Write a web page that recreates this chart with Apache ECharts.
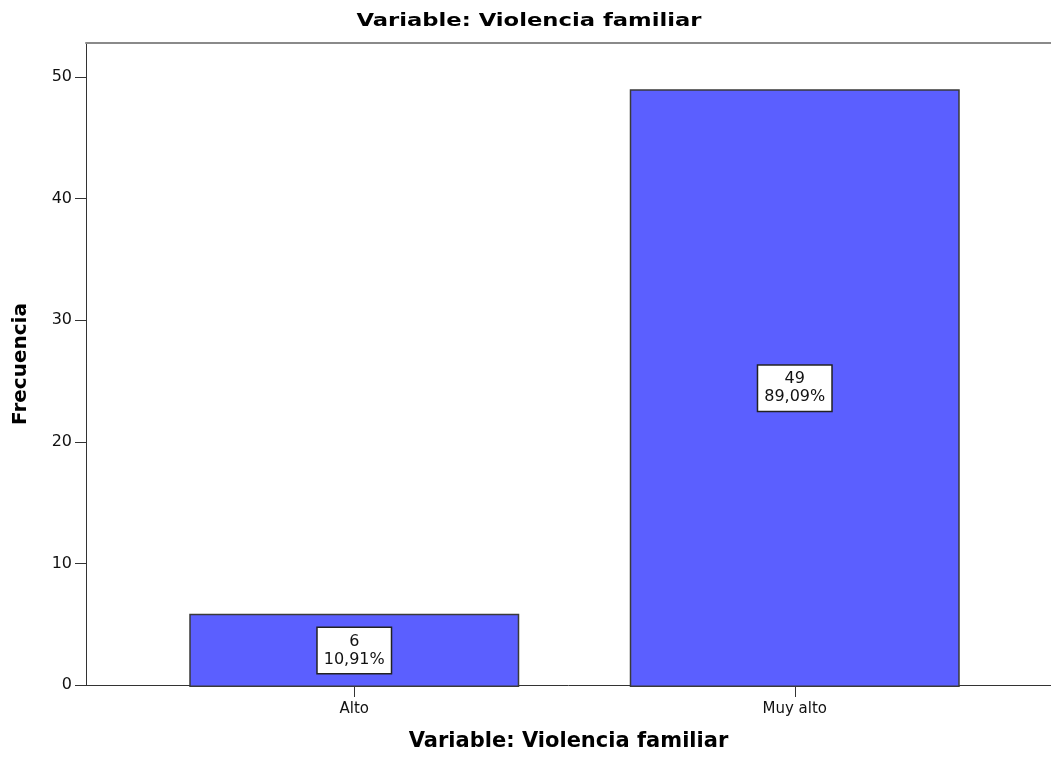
<!DOCTYPE html>
<html>
<head>
<meta charset="utf-8">
<script src="https://cdn.jsdelivr.net/npm/echarts@6/dist/echarts.min.js"></script>
<style>
  html, body { margin: 0; padding: 0; background: #fff; }
  #chart { width: 1051px; height: 757px; }
</style>
</head>
<body>
<div id="chart"></div>
<script>
var categories = ['Alto', 'Muy alto'];
var counts = [6, 49];
var percents = ['10,91%', '89,09%'];
var yTicks = [0, 10, 20, 30, 40, 50];

var dom_chart = document.getElementById('chart');
var chart = echarts.init(dom_chart);

var font = '"DejaVu Sans", "Liberation Sans", Arial, sans-serif';
var titleText = 'Variable: Violencia familiar';

var option = {
    animation: false,
    graphic: [{
        type: 'text', x: 529, y: 21, scaleX: 1.26,
        style: {text: titleText, font: 'bold 18px ' + font, fill: '#000',
                align: 'center', verticalAlign: 'middle'}
    }],
    grid: [
        // frame + y axis
        {left: 86, right: 0, top: 43, bottom: 70},
        // bars
        {left: 134, width: 881, top: 43, bottom: 70}
    ],
    xAxis: [
        {gridIndex: 0, type: 'value', min: 0, max: 1,
         axisLine: {show: true, onZero: false, lineStyle: {color: '#333'}}, axisTick: {show: false},
         axisLabel: {show: false}, splitLine: {show: false},
         name: titleText, nameLocation: 'middle', nameGap: 46,
         nameTextStyle: {fontFamily: font, fontSize: 21, fontWeight: 'bold', color: '#000'}},
        {gridIndex: 0, type: 'value', min: 0, max: 1, position: 'top',
         axisLine: {show: true, onZero: false, lineStyle: {color: '#8a8a8a', width: 2}}, axisTick: {show: false},
         axisLabel: {show: false}, splitLine: {show: false}},
        {gridIndex: 1, type: 'category', data: categories,
         axisLine: {show: false},
         axisTick: {show: true, alignWithLabel: true, length: 10, lineStyle: {color: '#333'}},
         axisLabel: {fontFamily: font, fontSize: 15, color: '#111', margin: 15}}
    ],
    yAxis: [
        {gridIndex: 0, type: 'value', min: 0, max: 52.8, interval: 10,
         axisLine: {show: true, onZero: false, lineStyle: {color: '#333'}},
         axisTick: {show: true, length: 11, customValues: yTicks, lineStyle: {color: '#333'}},
         axisLabel: {fontFamily: font, fontSize: 16, color: '#111', margin: 14, customValues: yTicks},
         splitLine: {show: false},
         name: 'Frecuencia', nameLocation: 'middle', nameGap: 55,
         nameTextStyle: {fontFamily: font, fontSize: 20, fontWeight: 'bold', color: '#000'}},
        {gridIndex: 1, type: 'value', min: 0, max: 52.8, show: false, splitLine: {show: false}}
    ],
    series: [{
        type: 'bar',
        xAxisIndex: 2, yAxisIndex: 1,
        barWidth: 330,
        data: counts,
        itemStyle: {color: '#5b5fff', borderColor: '#3a3a3a', borderWidth: 1.5},
        label: {
            show: true, position: 'inside',
            formatter: function (p) { return counts[p.dataIndex] + '\n' + percents[p.dataIndex]; },
            fontFamily: font, fontSize: 16, color: '#111', lineHeight: 18,
            backgroundColor: '#fff', borderColor: '#222', borderWidth: 1.5,
            padding: [5, 6, 4, 6]
        }
    }]
};

chart.setOption(option);
</script>
</body>
</html>
